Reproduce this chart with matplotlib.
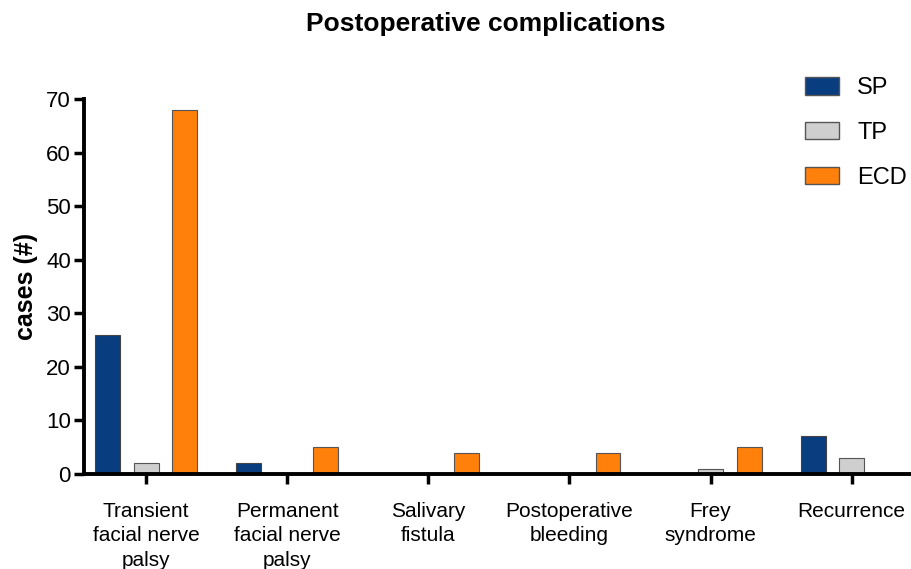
import numpy as np
import matplotlib
matplotlib.use("Agg")
import matplotlib.pyplot as plt
from matplotlib.patches import Patch

plt.rcParams["font.family"] = ["Liberation Sans", "DejaVu Sans"]

# Data
categories = ["Transient\nfacial nerve\npalsy", "Permanent\nfacial nerve\npalsy",
              "Salivary\nfistula", "Postoperative\nbleeding", "Frey\nsyndrome", "Recurrence"]
sp = [26, 2, 0, 0, 0, 7]
tp = [2, 0, 0, 0, 1, 3]
ecd = [68, 5, 4, 4, 5, 0]

colors = {"SP": "#083d7f", "TP": "#cfcfcf", "ECD": "#ff800b"}

fig = plt.figure(figsize=(9.11, 5.69), dpi=100)
ax = fig.add_axes([0.0922, 0.167, 0.9078, 0.659])

x = np.arange(len(categories))
w = 0.177
off = 0.273
ax.bar(x - off, sp, w, color=colors["SP"], edgecolor="#444444", linewidth=0.8)
ax.bar(x, tp, w, color=colors["TP"], edgecolor="#555555", linewidth=0.8)
ax.bar(x + off, ecd, w, color=colors["ECD"], edgecolor="#555555", linewidth=0.8)

ax.set_xlim(-0.44, 5.42)
ax.set_ylim(0, 70)
ax.set_yticks(range(0, 71, 10))
ax.set_xticks(x)
ax.set_xticklabels(categories, fontsize=15, linespacing=1.38)
ax.tick_params(axis="y", labelsize=16, width=2.5, length=7.5, pad=2)
ax.tick_params(axis="x", width=2.5, length=7, pad=13)

for s in ["top", "right"]:
    ax.spines[s].set_visible(False)
for s in ["left", "bottom"]:
    ax.spines[s].set_linewidth(2.8)
ax.spines["left"].set_capstyle("projecting")

ax.set_ylabel("cases (#)", fontsize=18, fontweight="bold", labelpad=6)
fig.suptitle("Postoperative complications", fontsize=19, fontweight="bold", y=0.979, x=0.533)

handles = [Patch(facecolor=colors[k], edgecolor="#555555", label=k) for k in ["SP", "TP", "ECD"]]
fig.legend(handles=handles, loc="upper left", bbox_to_anchor=(0.860, 0.902), frameon=False,
           fontsize=17, handlelength=1.44, handleheight=0.76, labelspacing=0.97, handletextpad=0.78)

fig.savefig("out.png", dpi=100)
